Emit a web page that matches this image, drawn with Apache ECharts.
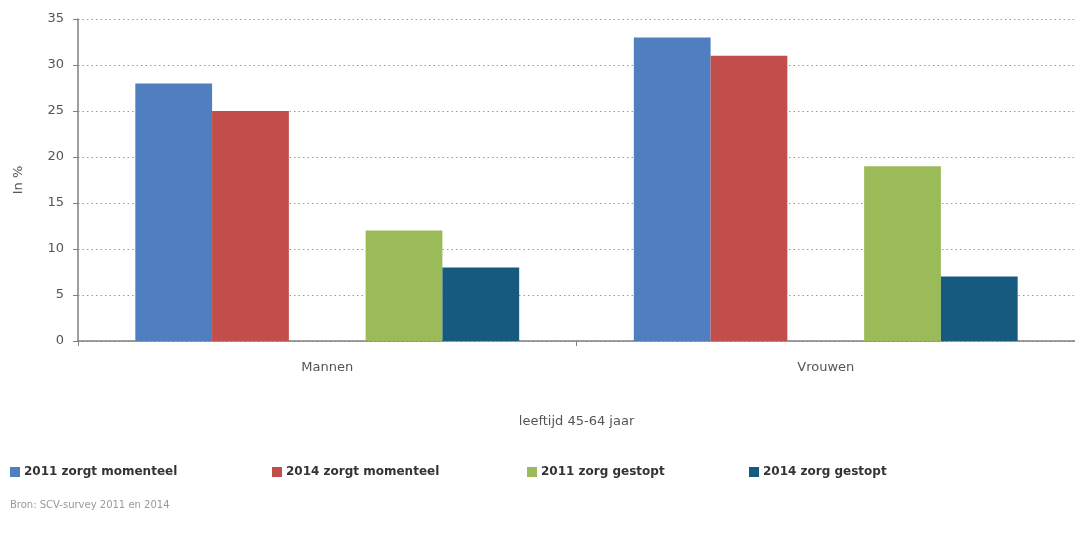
<!DOCTYPE html>
<html>
<head>
<meta charset="utf-8">
<script src="https://cdn.jsdelivr.net/npm/echarts@6/dist/echarts.min.js"></script>
<style>
  html, body { margin: 0; padding: 0; background: #fff; }
  #chart { width: 1075px; height: 540px; }
</style>
</head>
<body>
<div id="chart"></div>
<script>
// Categories and values (percentages)
const categories = ['Mannen', 'Vrouwen'];
const seriesNames = ['2011 zorgt momenteel', '2014 zorgt momenteel', '2011 zorg gestopt', '2014 zorg gestopt'];
const zorgt2011 = [28, 33];
const zorgt2014 = [25, 31];
const gestopt2011 = [12, 19];
const gestopt2014 = [8, 7];
const yTicks = [0, 5, 10, 15, 20, 25, 30, 35];

const colors = ['#4F7FC0', '#C24E4B', '#9BBB59', '#175A80'];
const font = '"DejaVu Sans", "Open Sans", sans-serif';

const chart = echarts.init(document.getElementById('chart'), null, { renderer: 'canvas' });

function bar(name, data, color) {
  return {
    name: name,
    type: 'bar',
    data: data,
    barGap: '0%',
    barCategoryGap: '23%',
    itemStyle: { color: color },
    emphasis: { disabled: true }
  };
}

// legend entries placed individually along the bottom row
const legendLeft = [10, 272, 527, 749];
const legends = seriesNames.map((n, i) => ({
  data: [n],
  left: legendLeft[i],
  top: 466,
  padding: 0,
  icon: 'rect',
  itemWidth: 10,
  itemHeight: 10,
  itemGap: 4,
  textStyle: { fontFamily: font, fontSize: 12, fontWeight: 'bold', color: '#333', padding: [0, 0, 0, -1] },
  selectedMode: false
}));

chart.setOption({
  animation: false,
  backgroundColor: '#fff',
  textStyle: { fontFamily: font },
  legend: legends,
  grid: { left: 78, top: 19, width: 1004, height: 322, containLabel: false },
  xAxis: {
    type: 'category',
    data: categories,
    name: 'leeftijd 45-64 jaar',
    nameLocation: 'middle',
    nameGap: 74,
    nameTextStyle: { fontFamily: font, fontSize: 13, color: '#555' },
    axisLine: { lineStyle: { color: '#7f7f7f', width: 1.5 } },
    axisTick: { show: true, length: 5, lineStyle: { color: '#7f7f7f' } },
    axisLabel: { fontFamily: font, fontSize: 13, color: '#555', margin: 20 }
  },
  yAxis: {
    type: 'value',
    min: yTicks[0],
    max: yTicks[yTicks.length - 1],
    interval: 5,
    name: 'In %',
    nameLocation: 'middle',
    nameGap: 53,
    nameRotate: 90,
    nameTextStyle: { fontFamily: font, fontSize: 13, color: '#555' },
    axisLine: { show: true, lineStyle: { color: '#7f7f7f', width: 1.5 } },
    axisTick: { show: true, length: 5, lineStyle: { color: '#7f7f7f' } },
    axisLabel: { fontFamily: font, fontSize: 13, color: '#555', margin: 14 },
    splitLine: { lineStyle: { color: '#9a9a9a', type: [1.5, 3], width: 1.2 } }
  },
  graphic: [{
    type: 'text',
    left: 10,
    top: 500,
    style: { text: 'Bron: SCV-survey 2011 en 2014', font: '10px ' + font, fill: '#999' }
  }],
  series: [
    bar(seriesNames[0], zorgt2011, colors[0]),
    bar(seriesNames[1], zorgt2014, colors[1]),
    // empty slot between the "momenteel" and "gestopt" pairs
    bar('', [null, null], 'transparent'),
    bar(seriesNames[2], gestopt2011, colors[2]),
    bar(seriesNames[3], gestopt2014, colors[3])
  ]
});
</script>
</body>
</html>
